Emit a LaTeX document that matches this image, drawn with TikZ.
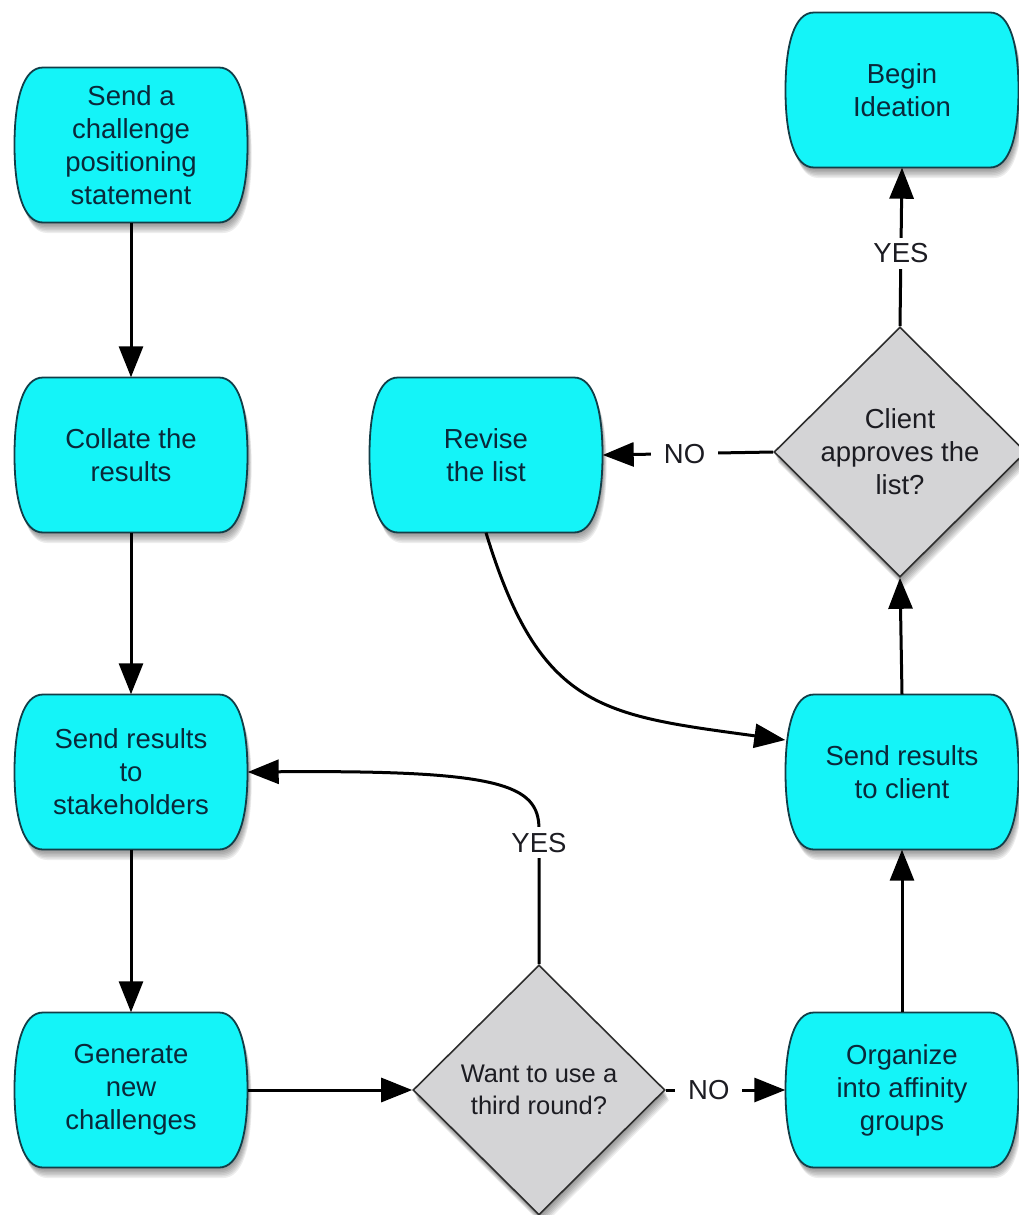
\documentclass[tikz,border=0pt]{standalone}
\usepackage{fontspec}
\setmainfont{Liberation Sans}
\usetikzlibrary{shapes.geometric,arrows.meta,calc,backgrounds}

\definecolor{cyanfill}{RGB}{20,244,248}
\definecolor{cyanline}{RGB}{18,62,72}
\definecolor{cyantext}{RGB}{10,40,58}
\definecolor{decfill}{RGB}{212,212,214}
\definecolor{decline}{RGB}{45,45,45}
\definecolor{dectext}{RGB}{28,28,34}

\def\barrelpath{(-88,-77.5) -- (88,-77.5) .. controls (108,-77.5) and (116.5,-45) .. (116.5,0) .. controls (116.5,45) and (108,77.5) .. (88,77.5) -- (-88,77.5) .. controls (-108,77.5) and (-116.5,45) .. (-116.5,0) .. controls (-116.5,-45) and (-108,-77.5) .. (-88,-77.5) -- cycle}
\def\diamondpath{(0,-125) -- (126,0) -- (0,125) -- (-126,0) -- cycle}

\newcommand\barrelbg[1]{%
  \begin{pgfonlayer}{background}
    \foreach \k in {1,...,7}{\fill[black,opacity=0.07,shift={($(#1.center)+(0.6*\k,1.5*\k)$)}] \barrelpath;}
    \draw[cyanline,fill=cyanfill,line width=1.8pt,shift={(#1.center)}] \barrelpath;
  \end{pgfonlayer}}
\newcommand\diamondbg[1]{%
  \begin{pgfonlayer}{background}
    \foreach \k in {1,...,7}{\fill[black,opacity=0.07,shift={($(#1.center)+(0.6*\k,1.5*\k)$)}] \diamondpath;}
  \end{pgfonlayer}}

\tikzset{
  proc/.style={rectangle, minimum width=233pt, minimum height=155pt, inner sep=0pt,
    align=center, text=cyantext, font=\fontsize{27.5}{33}\selectfont},
  dec/.style={diamond, draw=decline, fill=decfill, line width=1.6pt,
    minimum width=252pt, minimum height=250pt, inner sep=0pt},
  dectxt/.style={align=center, text=dectext, font=\fontsize{27.5}{33}\selectfont},
  arr/.style={line width=3pt, -{Triangle[length=31pt,width=24pt]}},
  lab/.style={fill=white, inner xsep=13pt, inner ysep=6pt, text=dectext,
    font=\fontsize{27.5}{33}\selectfont}
}

\begin{document}
\begin{tikzpicture}[x=1pt,y=-1pt]
\useasboundingbox (0,0) rectangle (1018,1215);

\node[proc] (n1) at (131,145) {Send a\\challenge\\positioning\\statement};
\node[proc] (n2) at (131,455) {Collate the\\results};
\node[proc] (n3) at (131,772) {Send results\\to\\stakeholders};
\node[proc] (n4) at (131,1090) {Generate\\new\\challenges};
\node[proc] (rev) at (486,455) {Revise\\the list};
\node[proc] (idea) at (902,90) {Begin\\Ideation};
\node[proc] (cli) at (902,772) {Send results\\to client};
\node[proc] (aff) at (902,1090) {Organize\\into affinity\\groups};
\node[dec, label={[dectxt]center:Client\\approves the\\list?}] (d2) at (900,452) {};
\node[dec, label={[dectxt,font=\fontsize{25.5}{32}\selectfont]center:Want to use a\\third round?}] (d1) at (539,1090) {};

\barrelbg{n1}\barrelbg{n2}\barrelbg{n3}\barrelbg{n4}
\barrelbg{rev}\barrelbg{idea}\barrelbg{cli}\barrelbg{aff}
\diamondbg{d1}\diamondbg{d2}

\draw[arr] (n1.south) -- (n2.north);
\draw[arr] (n2.south) -- (n3.north);
\draw[arr] (n3.south) -- (n4.north);
\draw[arr] (n4.east) -- (d1.west);
\draw[arr] (d1.east) -- node[lab,pos=0.36]{NO} (aff.west);
\draw[arr] (aff.north) -- (cli.south);
\draw[arr] (cli.north) -- (d2.south);
\draw[arr] (d2.north) -- node[lab,pos=0.46]{YES} (idea.south);
\draw[arr] (d2.west) -- node[lab,pos=0.52]{NO} (rev.east);
\draw[arr] (rev.south) .. controls (540,710) and (602,715) .. ([yshift=32pt]cli.west);
\draw[arr] (d1.north) -- node[lab,pos=0.9]{YES} ++(0,-135) .. controls +(0,-45) and (500,770) .. (n3.east);
\end{tikzpicture}
\end{document}
